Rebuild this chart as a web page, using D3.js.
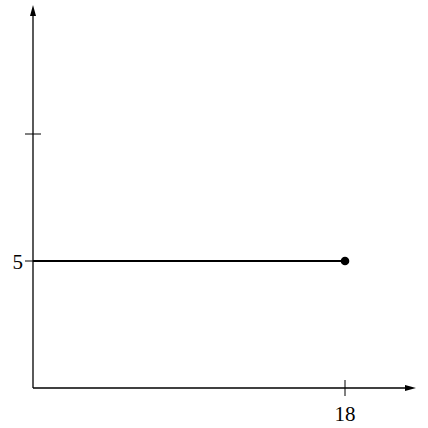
<!DOCTYPE html>
<html><head><meta charset="utf-8">
<script src="https://cdn.jsdelivr.net/npm/d3@7"></script>
<style>body{margin:0;background:#fff}</style></head>
<body><svg id="c" width="428" height="428"></svg>
<script>
const xTicks=[18], xTickLabels=["18"];
const yTicks=[5,10], yTickLabels=["5",""];
const lineX=[0,18], lineY=[5,5];
const svg=d3.select("#c");
const x=d3.scaleLinear().domain([0,18]).range([33,345]);
const y=d3.scaleLinear().domain([0,5]).range([388,261]);
const g=svg.append("g");
// axes
g.append("line").attr("x1",33).attr("y1",388).attr("x2",410).attr("y2",388).attr("stroke","#000").attr("stroke-width",1.3);
g.append("path").attr("d","M416,388 L405,385 L405,391 Z").attr("fill","#000");
g.append("line").attr("x1",33).attr("y1",388).attr("x2",33).attr("y2",12).attr("stroke","#000").attr("stroke-width",1.3);
g.append("path").attr("d","M33,5 L30,16 L36,16 Z").attr("fill","#000");
xTicks.forEach((t,i)=>{
 g.append("line").attr("x1",x(t)).attr("x2",x(t)).attr("y1",380).attr("y2",396).attr("stroke","#000");
 g.append("text").attr("x",x(t)).attr("y",421).attr("text-anchor","middle").attr("font-family","Liberation Serif").attr("font-size",21).text(xTickLabels[i]);
});
yTicks.forEach((t,i)=>{
 g.append("line").attr("x1",25).attr("x2",41).attr("y1",y(t)).attr("y2",y(t)).attr("stroke","#000");
 g.append("text").attr("x",23).attr("y",y(t)+8).attr("text-anchor","end").attr("font-family","Liberation Serif").attr("font-size",21).text(yTickLabels[i]);
});
const pts=lineX.map((v,i)=>[v,lineY[i]]);
g.append("path").attr("d",d3.line().x(d=>x(d[0])).y(d=>y(d[1]))(pts)).attr("stroke","#000").attr("stroke-width",2.2).attr("fill","none");
g.append("circle").attr("cx",x(18)).attr("cy",y(5)).attr("r",4.3).attr("fill","#000");
</script></body></html>
